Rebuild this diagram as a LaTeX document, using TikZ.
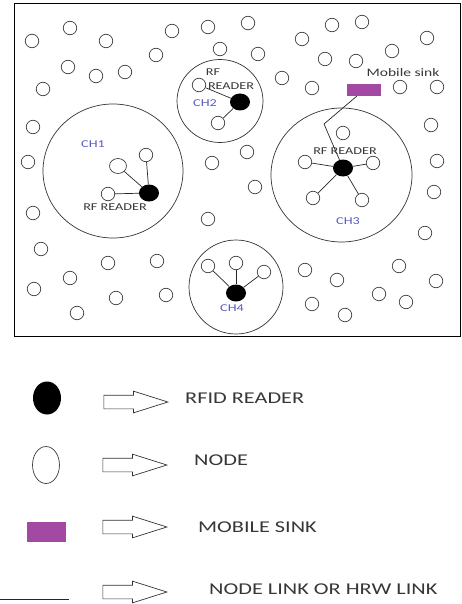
\documentclass[tikz,border=0pt]{standalone}
\usepackage{fontspec}
\newfontfamily\labelfont[FakeStretch=1.35]{Carlito}
\usepackage{tikz}
\usetikzlibrary{shapes}
\definecolor{sinkpurple}{RGB}{163,73,164}
\definecolor{chblue}{RGB}{90,90,200}
\definecolor{textgray}{RGB}{55,55,55}

\begin{document}
\begin{tikzpicture}[x=1pt,y=-1pt,inner sep=0pt,
  sensor/.style={circle,draw=black!75,line width=.7pt,minimum size=13.5pt},
  reader/.style={ellipse,fill=black,minimum width=20pt,minimum height=17pt},
  cluster/.style={ellipse,draw=black!80,line width=.7pt},
  link/.style={black!85,line width=.7pt},
  sinkbox/.style={rectangle,fill=sinkpurple},
  rftext/.style={font=\labelfont\fontsize{10.5}{12}\selectfont,text=textgray},
  chtext/.style={font=\labelfont\fontsize{10.5}{12}\selectfont,text=chblue},
  legendtext/.style={anchor=west,font=\labelfont\fontsize{16.5}{18}\selectfont,text=textgray},
  hollowarrow/.style={single arrow,draw=black!80,line width=.7pt,inner xsep=0pt,inner ysep=6.5pt,minimum height=64pt,single arrow head extend=4pt,single arrow tip angle=35}]
\useasboundingbox (0,0) rectangle (462,604);
\draw[line width=1pt] (14,4) rectangle (460.5,336);
\node at (113,171) [cluster,minimum width=140pt,minimum height=134pt] (Cluster1) {};
\node at (220,101) [cluster,minimum width=86pt,minimum height=83pt] (Cluster2) {};
\node at (341.5,175) [cluster,minimum width=141pt,minimum height=134pt] (Cluster3) {};
\node at (236,287) [cluster,minimum width=94pt,minimum height=94pt] (Cluster4) {};
\node at (32,41) [sensor] (Node1) {};
\node at (70,28) [sensor] (Node2) {};
\node at (106,41) [sensor] (Node3) {};
\node at (68,67) [sensor] (Node4) {};
\node at (96,76) [sensor] (Node5) {};
\node at (125,72) [sensor] (Node6) {};
\node at (43,89) [sensor] (Node7) {};
\node at (156,55) [sensor] (Node8) {};
\node at (172,31) [sensor] (Node9) {};
\node at (208,27) [sensor] (Node10) {};
\node at (220,49) [sensor] (Node11) {};
\node at (248,23) [sensor] (Node12) {};
\node at (302,39) [sensor] (Node13) {};
\node at (258,54) [sensor] (Node14) {};
\node at (282,78) [sensor] (Node15) {};
\node at (312,88) [sensor] (Node16) {};
\node at (332,25) [sensor] (Node17) {};
\node at (362,22) [sensor] (Node18) {};
\node at (325,59) [sensor] (Node19) {};
\node at (356,61) [sensor] (Node20) {};
\node at (392,51) [sensor] (Node21) {};
\node at (427,38) [sensor] (Node22) {};
\node at (400,87) [sensor] (Node23) {};
\node at (437,87) [sensor] (Node24) {};
\node at (431,125) [sensor] (Node25) {};
\node at (437,161) [sensor] (Node26) {};
\node at (434,192) [sensor] (Node27) {};
\node at (425,233) [sensor] (Node28) {};
\node at (33,127) [sensor] (Node29) {};
\node at (28,162) [sensor] (Node30) {};
\node at (33,213) [sensor] (Node31) {};
\node at (41,249) [sensor] (Node32) {};
\node at (34,289) [sensor] (Node33) {};
\node at (70,278) [sensor] (Node34) {};
\node at (77,313) [sensor] (Node35) {};
\node at (108,263) [sensor] (Node36) {};
\node at (116,298) [sensor] (Node37) {};
\node at (157,261) [sensor] (Node38) {};
\node at (166,295) [sensor] (Node39) {};
\node at (212,163) [sensor] (Node40) {};
\node at (247,152) [sensor] (Node41) {};
\node at (255,187) [sensor] (Node42) {};
\node at (208,219) [sensor] (Node43) {};
\node at (305,270) [sensor] (Node44) {};
\node at (337,280) [sensor] (Node45) {};
\node at (312,304) [sensor] (Node46) {};
\node at (345,315) [sensor] (Node47) {};
\node at (379,294) [sensor] (Node48) {};
\node at (406,302) [sensor] (Node49) {};
\node at (399,266) [sensor] (Node50) {};
\node at (436,281) [sensor] (Node51) {};
\node at (118,166) [sensor,ellipse,minimum width=17pt,minimum height=15pt] (Member1a) {};
\node at (146,155) [sensor] (Member1b) {};
\node at (108,194) [sensor] (Member1c) {};
\node at (199,85) [sensor] (Member2a) {};
\node at (218,123) [sensor] (Member2b) {};
\node at (343,133) [sensor] (Member3a) {};
\node at (305,162) [sensor] (Member3b) {};
\node at (373,163) [sensor] (Member3c) {};
\node at (313,198) [sensor] (Member3d) {};
\node at (362,200) [sensor] (Member3e) {};
\node at (208,266) [sensor] (Member4a) {};
\node at (236,263) [sensor] (Member4b) {};
\node at (264,272) [sensor] (Member4c) {};
\node at (149,193) [reader] (Reader1) {};
\node at (240,102) [reader] (Reader2) {};
\node at (343,168) [reader] (Reader3) {};
\node at (236,293) [reader] (Reader4) {};
\node at (364,90) [sinkbox,minimum width=34pt,minimum height=12pt] (Sink) {};
\coordinate (Kink) at (324,124);
\draw[link] (Reader1) -- (Member1a);
\draw[link] (Reader1) -- (Member1b);
\draw[link] (Reader1) -- (Member1c);
\draw[link] (Reader2) -- (Member2a);
\draw[link] (Reader2) -- (Member2b);
\draw[link] (Reader3) -- (Member3b);
\draw[link] (Reader3) -- (Member3c);
\draw[link] (Reader3) -- (Member3d);
\draw[link] (Reader3) -- (Member3e);
\draw[link] (Reader4) -- (Member4a);
\draw[link] (Reader4) -- (Member4b);
\draw[link] (Reader4) -- (Member4c);
\draw[link] (Sink) -- (Kink) -- (Reader3);
\node at (115,207) [rftext] (Label1) {RF READER};
\node at (213,72) [rftext] (Label2a) {RF};
\node at (231,86) [rftext] (Label2b) {READER};
\node at (345,151) [rftext] (Label3) {RF READER};
\node at (93,144) [chtext] (Head1) {CH1};
\node at (205,103) [chtext] (Head2) {CH2};
\node at (348,221) [chtext] (Head3) {CH3};
\node at (232,308) [chtext] (Head4) {CH4};
\node at (403,73) [rftext,font=\labelfont\fontsize{11.5}{13}\selectfont] (SinkLabel) {Mobile sink};
\node at (47,398) [reader,minimum width=28pt,minimum height=33pt] (KeyReader) {};
\node at (46,465) [sensor,ellipse,minimum width=27pt,minimum height=37pt] (KeyNode) {};
\node at (46.5,532) [sinkbox,minimum width=39pt,minimum height=20pt] (KeySink) {};
\coordinate (KeyLinkA) at (0,599);
\coordinate (KeyLinkB) at (69,599);
\draw[link] (KeyLinkA) -- (KeyLinkB);
\node at (125,402) [hollowarrow] (KeyArrow1) {};
\node at (124,465) [hollowarrow] (KeyArrow2) {};
\node at (124,527) [hollowarrow] (KeyArrow3) {};
\node at (124,592) [hollowarrow] (KeyArrow4) {};
\node at (185,398) [legendtext] (KeyText1) {RFID READER};
\node at (194,460) [legendtext] (KeyText2) {NODE};
\node at (198,527) [legendtext] (KeyText3) {MOBILE SINK};
\node at (209,589) [legendtext] (KeyText4) {NODE LINK OR HRW LINK};
\end{tikzpicture}
\end{document}
